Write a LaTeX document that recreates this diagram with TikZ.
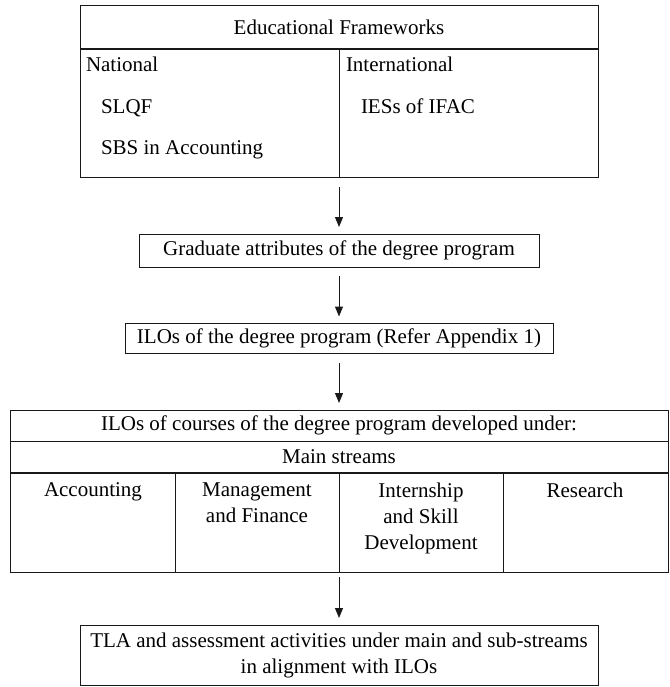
\documentclass[tikz,border=0pt]{standalone}
\usepackage{fontspec}
\setmainfont{Liberation Serif}
\usetikzlibrary{arrows.meta}
\begin{document}
\begin{tikzpicture}[x=1pt,y=-1pt,
  boxline/.style={draw=black!90, line width=1pt},
  thickline/.style={draw=black!90, line width=2pt},
  txt/.style={inner sep=0pt, outer sep=0pt, font=\fontsize{21}{26}\selectfont},
  ctxt/.style={txt, align=center},
  arr/.style={draw=black!90, line width=1pt, -{Triangle[length=10pt,width=8pt]}}]
\useasboundingbox (0,0) rectangle (669,687);
% top box
\coordinate (fwnw) at (80,6);
\coordinate (fwse) at (598,177);
\draw[boxline] (fwnw) rectangle (fwse);
\coordinate (tl1) at (80,49);
\coordinate (tl2) at (598,49);
\draw[thickline] (tl1) -- (tl2);
\coordinate (dv1) at (339,49);
\coordinate (dv2) at (339,177);
\draw[boxline] (dv1) -- (dv2);
\node[txt] (fwt) at (339,27) {Educational Frameworks};
\node[txt, anchor=base west] (nat) at (86,72) {National};
\node[txt, anchor=base west] (slqf) at (101,114) {SLQF};
\node[txt, anchor=base west] (sbs) at (101,155) {SBS in Accounting};
\node[txt, anchor=base west] (intl) at (346,72) {International};
\node[txt, anchor=base west] (ies) at (361,114) {IESs of IFAC};
\coordinate (fwbot) at (339,177);
% graduate attributes
\node[boxline, txt, minimum width=400pt, minimum height=33pt] (ga) at (339,250.5) {Graduate attributes of the degree program};
% ILOs program
\node[boxline, txt, minimum width=428pt, minimum height=30pt] (ilo) at (339,338.5) {ILOs of the degree program (Refer Appendix 1)};
% big box
\coordinate (bbnw) at (10.5,410);
\coordinate (bbse) at (668,572);
\draw[boxline] (bbnw) rectangle (bbse);
\coordinate (r1a) at (10.5,441);
\coordinate (r1b) at (668,441);
\draw[boxline] (r1a) -- (r1b);
\coordinate (r2a) at (10.5,473);
\coordinate (r2b) at (668,473);
\draw[thickline] (r2a) -- (r2b);
\foreach \cx/\nm in {175/ca,339/cb,503/cc}{
  \coordinate (\nm1) at (\cx,473);
  \coordinate (\nm2) at (\cx,572);
  \draw[boxline] (\nm1) -- (\nm2);
}
\node[txt] (ilc) at (339,425) {ILOs of courses of the degree program developed under:};
\node[txt] (ms) at (339,457) {Main streams};
\node[ctxt, anchor=north] (acc) at (93,483) {Accounting};
\node[ctxt, anchor=north] (mgt) at (257,483) {Management\\and Finance};
\node[ctxt, anchor=north] (isd) at (421,483) {Internship\\and Skill\\Development};
\node[ctxt, anchor=north] (res) at (585,483) {Research};
\coordinate (bbtop) at (339,410);
\coordinate (bbbot) at (339,572);
% bottom box
\node[boxline, ctxt, minimum width=518pt, minimum height=60pt] (tla) at (339,655) {TLA and assessment activities under main and sub-streams\\in alignment with ILOs};
% arrows
\draw[arr] ([yshift=-10pt]fwbot) -- ([yshift=7pt]ga.north);
\draw[arr] ([yshift=-9pt]ga.south) -- ([yshift=7pt]ilo.north);
\draw[arr] ([yshift=-9pt]ilo.south) -- ([yshift=7pt]bbtop);
\draw[arr] ([yshift=-5pt]bbbot) -- ([yshift=7pt]tla.north);
\end{tikzpicture}
\end{document}
